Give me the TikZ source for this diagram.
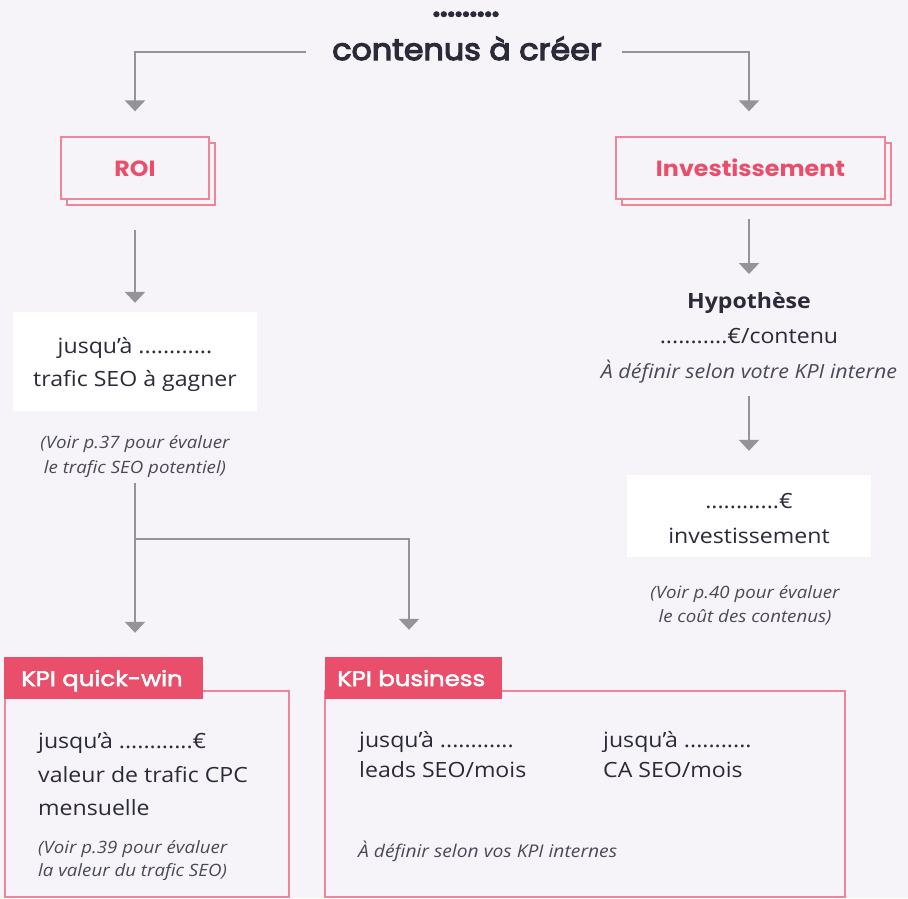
\documentclass[tikz,border=0pt]{standalone}
\usepackage{fontspec}
\setmainfont{Open Sans}[FakeStretch=1.1]
\newfontfamily\headm{Poppins}[RawFeature={embolden=4}, FakeStretch=1.06]
\newfontfamily\headd{Poppins}[RawFeature={embolden=6}, FakeStretch=1.1]
\newfontfamily\headb{Poppins}[FakeStretch=1.08]
\newfontfamily\headt{Poppins}[RawFeature={embolden=2.5}, FakeStretch=1.16]
\usetikzlibrary{arrows.meta,shadows}
\definecolor{bg}{HTML}{F6F4F8}
\definecolor{pinkc}{HTML}{E94E6B}
\definecolor{pinkl}{HTML}{EE8599}
\definecolor{ink}{HTML}{2A2A38}
\definecolor{arrg}{HTML}{939399}
\definecolor{note}{HTML}{4A4A56}
\tikzset{
  arr/.style={draw=arrg, line width=2.5pt, -{Triangle[width=20pt,length=11pt]}},
  pbox/.style={draw=pinkl, line width=1.3pt, fill=bg, inner sep=0pt,
     copy shadow={shadow xshift=6pt, shadow yshift=-6pt}},
  wbox/.style={fill=white, inner sep=0pt},
  frame/.style={draw=pinkl, line width=1.3pt},
  tag/.style={fill=pinkc, inner sep=0pt, minimum height=42pt},
  ttl/.style={inner sep=0pt, anchor=base, text=ink},
  body/.style={inner sep=0pt, anchor=base, text=ink, font=\fontsize{21}{24}\selectfont},
  bodyw/.style={inner sep=0pt, anchor=base west, text=ink, font=\fontsize{21}{24}\selectfont},
  nt/.style={inner sep=0pt, anchor=base, text=note, font=\fontsize{17}{18}\selectfont\itshape},
  ntw/.style={inner sep=0pt, anchor=base west, text=note, font=\fontsize{17}{18}\selectfont\itshape},
  tagt/.style={inner sep=0pt, anchor=base west, text=white, font=\headt\fontsize{21}{24}\selectfont},
}
\begin{document}
\begin{tikzpicture}[x=1pt,y=-1pt]
\useasboundingbox[fill=bg] (0,0) rectangle (908,898);

% title
\node[ttl, font=\headd\fontsize{32}{34}\selectfont] (dots) at (466,16) {.........};
\node[ttl, font=\headm\fontsize{30}{32}\selectfont] (title) at (467,60) {contenus à créer};

% top boxes
\node[pbox, minimum width=148pt, minimum height=62pt] (roi) at (135,168) {};
\node[ttl, text=pinkc, font=\headb\bfseries\fontsize{22}{24}\selectfont] (roit) at (135,176) {ROI};
\node[pbox, minimum width=269pt, minimum height=62pt] (inv) at (750.5,168) {};
\node[ttl, text=pinkc, font=\headb\bfseries\fontsize{22}{24}\selectfont] (invt) at (750.5,176) {Investissement};

\coordinate (tl) at (306,52);
\coordinate (tr) at (622,52);
\draw[arr] (tl) -| ([yshift=25pt]roi.north);
\draw[arr] (tr) -| ([yshift=25pt]inv.north -| 749,0);

% left column
\node[wbox, minimum width=244pt, minimum height=99pt] (traf) at (135,361.5) {};
\node[body] (traf1) at (135,353) {jusqu’à ............};
\node[body] (traf2) at (135,386) {trafic SEO à gagner};
\node[nt] (n37a) at (135,448) {(Voir p.37 pour évaluer};
\node[nt] (n37b) at (135,473) {le trafic SEO potentiel)};
\draw[arr] ([yshift=-30pt]roi.south) -- ([yshift=9pt]traf.north);

% right column
\node[ttl, font=\bfseries\fontsize{21}{24}\selectfont] (hyp) at (749,308) {Hypothèse};
\node[body] (hyp2) at (749,343) {...........€/contenu};
\node[nt, font=\fontsize{19.5}{20}\selectfont\itshape] (hyp3) at (749,378) {À définir selon votre KPI interne};
\coordinate (ia) at (749,219);
\coordinate (ib) at (749,274);
\draw[arr] (ia) -- (ib);

\node[wbox, minimum width=244pt, minimum height=82pt] (invb) at (749,516) {};
\node[body] (invb1) at (749,508) {............€};
\node[body] (invb2) at (749,543) {investissement};
\node[nt] (n40a) at (745,598) {(Voir p.40 pour évaluer};
\node[nt] (n40b) at (745,622) {le coût des contenus)};
\coordinate (ic) at (749,396);
\draw[arr] (ic) -- ([yshift=24pt]invb.north);

% KPI boxes
\draw[frame] (5,691) rectangle (289,897);
\draw[frame] (325,691) rectangle (845,897);
\node[tag, minimum width=199pt] (qw) at (103.5,678) {};
\node[tagt] (qwt) at (21,686) {KPI quick-win};
\node[tag, minimum width=177pt] (bz) at (413.5,678) {};
\node[tagt] (bzt) at (337,686) {KPI business};

\coordinate (s) at (135,483);
\coordinate (br) at (135,539);
\draw[arr] (s) -- ([yshift=24pt]qw.north -| s);
\draw[arr] (br) -| ([yshift=27pt]bz.north -| 409,0);

% quick-win contents
\node[bodyw] (q1) at (38,748) {jusqu’à ............€};
\node[bodyw] (q2) at (38,782) {valeur de trafic CPC};
\node[bodyw] (q3) at (38,815) {mensuelle};
\node[ntw] (q4) at (38,853) {(Voir p.39 pour évaluer};
\node[ntw] (q5) at (38,876) {la valeur du trafic SEO)};

% business contents
\node[bodyw] (b1) at (359,747) {jusqu’à ............};
\node[bodyw] (b2) at (359,777) {leads SEO/mois};
\node[bodyw] (b3) at (603,747) {jusqu’à ...........};
\node[bodyw] (b4) at (603,777) {CA SEO/mois};
\node[ntw, font=\fontsize{17.5}{18}\selectfont\itshape] (b5) at (358,857) {À définir selon vos KPI internes};
\end{tikzpicture}
\end{document}
